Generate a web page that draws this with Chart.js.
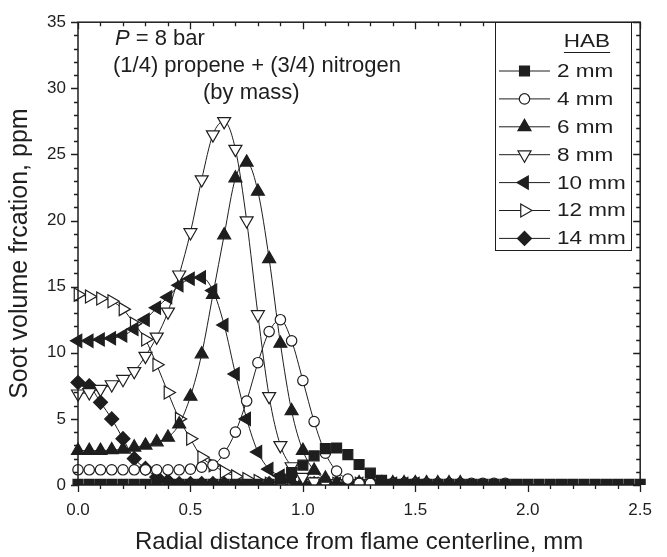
<!DOCTYPE html>
<html><head><meta charset="utf-8">
<script src="https://cdn.jsdelivr.net/npm/chart.js@4.4.1/dist/chart.umd.min.js"></script>
<style>html,body{margin:0;padding:0;background:#fff;}canvas{display:block;}</style>
</head><body>
<canvas id="c" width="667" height="557"></canvas>
<script>
// ---------- data ----------
const radialDistance = [0.00,0.05,0.10,0.15,0.20,0.25,0.30,0.35,0.40,0.45,0.50,0.55,0.60,0.65,0.70,0.75,0.80,0.85,0.90,0.95,1.00,1.05,1.10,1.15,1.20,1.25,1.30,1.35,1.40,1.45,1.50,1.55,1.60,1.65,1.70,1.75,1.80,1.85,1.90,1.95,2.00,2.05,2.10,2.15,2.20,2.25,2.30,2.35,2.40,2.45,2.50];

const hab2mm  = [0.05,0.05,0.05,0.05,0.05,0.05,0.05,0.05,0.05,0.05,0.05,0.05,0.05,0.05,0.05,0.05,0.05,0.05,0.45,0.95,1.5,2.2,2.75,2.8,2.3,1.55,0.9,0.35,0.05,0.05,0.05,0.05,0.05,0.05,0.05,0.05,0.05,0.05,0.05,0.05,0.05,0.05,0.05,0.05,0.05,0.05,0.05,0.05,0.05,0.05,0.05];
const hab4mm  = [1.15,1.15,1.15,1.15,1.15,1.15,1.15,1.15,1.15,1.15,1.2,1.35,1.5,2.4,4.0,6.35,9.25,11.6,12.5,10.9,7.9,4.8,2.4,1.05,0.45,0.12,0.12,0.12,0.12,0.12,0.12,0.12,0.12,0.12,0.12,0.12,0.12,0.12,0.12,null,null,null,null,null,null,null,null,null,null,null,null];
const hab6mm  = [2.6,2.6,2.6,2.65,2.7,2.85,3.0,3.25,3.6,4.6,6.7,9.9,14.4,18.9,23.2,24.4,22.2,17.1,10.7,5.6,2.6,1.1,0.5,0.15,0.15,0.15,0.15,0.15,0.15,0.15,0.15,0.15,0.15,0.15,0.15,null,null,null,null,null,null,null,null,null,null,null,null,null,null,null,null];
const hab8mm  = [6.9,7.0,7.25,7.6,8.0,8.6,9.75,11.2,13.1,15.9,19.1,23.1,26.5,27.5,25.4,20.0,12.9,6.7,3.0,1.4,0.6,0.25,0.1,0.1,0.1,0.1,0.1,0.1,0.1,0.1,0.1,null,null,null,null,null,null,null,null,null,null,null,null,null,null,null,null,null,null,null,null];
const hab10mm = [10.9,10.9,11.0,11.1,11.3,11.8,12.5,13.4,14.2,15.1,15.6,15.7,14.7,12.1,8.4,5.0,2.5,1.2,0.7,0.35,0.1,0.1,0.1,0.1,0.1,0.1,0.1,0.1,0.1,0.1,0.1,null,null,null,null,null,null,null,null,null,null,null,null,null,null,null,null,null,null,null,null];
const hab12mm = [14.4,14.25,14.1,13.9,13.3,12.2,11.0,9.1,7.0,5.0,3.5,2.1,1.5,1.0,0.65,0.45,0.3,0.1,0.1,0.1,0.1,0.1,0.1,0.1,0.1,0.1,null,null,null,null,null,null,null,null,null,null,null,null,null,null,null,null,null,null,null,null,null,null,null,null,null];
const hab14mm = [7.75,7.5,6.25,5.0,3.5,2.0,1.25,0.6,0.3,0.1,0.1,0.1,0.1,0.1,0.1,0.1,0.1,0.1,0.1,0.1,0.1,0.1,0.1,0.1,0.1,0.1,0.1,0.1,0.1,0.1,0.1,null,null,null,null,null,null,null,null,null,null,null,null,null,null,null,null,null,null,null,null];

const seriesLabels = ['2 mm','4 mm','6 mm','8 mm','10 mm','12 mm','14 mm'];
const seriesValues = [hab2mm, hab4mm, hab6mm, hab8mm, hab10mm, hab12mm, hab14mm];

const xTickValues = [0, 0.5, 1.0, 1.5, 2.0, 2.5];
const yTickValues = [0, 5, 10, 15, 20, 25, 30, 35];
const xMinorStep = 0.1;
const yMinorStep = 1;

const xTitle = 'Radial distance from flame centerline, mm';
const yTitle = 'Soot volume frcation, ppm';
const legendTitle = 'HAB';

// ---------- styles ----------
const INK = '#1e1e1e';
const FONT = '"Liberation Sans", Arial, Helvetica, sans-serif';
const markerStyles = [
  {pointStyle:'rect',     rotation:0,   radius:7,   fill:INK},
  {pointStyle:'circle',   rotation:0,   radius:5.2, fill:'#fff'},
  {pointStyle:'triangle', rotation:0,   radius:7.5, fill:INK},
  {pointStyle:'triangle', rotation:180, radius:7.5, fill:'#fff'},
  {pointStyle:'triangle', rotation:270, radius:7.5, fill:INK},
  {pointStyle:'triangle', rotation:90,  radius:7.5, fill:'#fff'},
  {pointStyle:'rectRot',  rotation:0,   radius:7,   fill:INK}
];

const datasets = seriesValues.map((vals, i) => ({
  label: seriesLabels[i],
  data: radialDistance.map((x, j) => ({x: x, y: vals[j]})),
  borderColor: INK,
  borderWidth: 1,
  backgroundColor: markerStyles[i].fill,
  pointStyle: markerStyles[i].pointStyle,
  pointRotation: markerStyles[i].rotation,
  pointRadius: markerStyles[i].radius,
  pointBackgroundColor: markerStyles[i].fill,
  pointBorderColor: INK,
  pointBorderWidth: 1.2,
  cubicInterpolationMode: 'monotone',
  spanGaps: false,
  fill: false,
  clip: {left: 12, top: 12, right: 12, bottom: 0}
}));

// frame + inward/outward ticks
const frameTicks = {
  id: 'frameTicks',
  afterDatasetsDraw(chart) {
    const {ctx, chartArea: a, scales: {x, y}} = chart;
    ctx.save();
    ctx.strokeStyle = INK;
    ctx.lineWidth = 1.5;
    ctx.strokeRect(a.left, a.top, a.right - a.left, a.bottom - a.top);
    ctx.lineWidth = 1.3;
    ctx.beginPath();
    const nx = Math.round((x.max - x.min) / xMinorStep);
    for (let i = 0; i <= nx; i++) {
      const v = x.min + i * xMinorStep;
      const px = Math.round(x.getPixelForValue(v)) + 0.5;
      const len = (i % 5 === 0) ? 7 : 4;
      ctx.moveTo(px, a.bottom); ctx.lineTo(px, a.bottom + len);
      ctx.moveTo(px, a.top); ctx.lineTo(px, a.top + len);
    }
    const ny = Math.round((y.max - y.min) / yMinorStep);
    for (let i = 0; i <= ny; i++) {
      const v = y.min + i * yMinorStep;
      const py = Math.round(y.getPixelForValue(v)) + 0.5;
      const len = (i % 5 === 0) ? 7 : 4;
      ctx.moveTo(a.left - len, py); ctx.lineTo(a.left, py);
      ctx.moveTo(a.right - len, py); ctx.lineTo(a.right, py);
    }
    ctx.stroke();
    ctx.restore();
  }
};

// annotation text + legend box
const extras = {
  id: 'extras',
  afterDraw(chart) {
    const ctx = chart.ctx;
    ctx.save();
    ctx.fillStyle = INK;
    ctx.textBaseline = 'alphabetic';
    ctx.textAlign = 'left';
    ctx.font = 'italic 22px ' + FONT;
    ctx.fillText('P', 115, 45);
    const pw = ctx.measureText('P').width;
    ctx.font = '22px ' + FONT;
    ctx.fillText(' = 8 bar', 115 + pw, 45);
    ctx.fillText('(1/4) propene + (3/4) nitrogen', 113, 72);
    ctx.fillText('(by mass)', 203, 99);

    const bx = 495.5, by = 22.5, bw = 136, bh = 228;
    ctx.fillStyle = '#fff';
    ctx.fillRect(bx, by, bw, bh);
    ctx.strokeStyle = INK;
    ctx.lineWidth = 1;
    ctx.strokeRect(bx, by, bw, bh);
    ctx.fillStyle = INK;

    const sx = 1.25;
    ctx.font = '18px ' + FONT;
    ctx.textBaseline = 'middle';
    const tw = ctx.measureText(legendTitle).width * sx;
    const tcx = 587;
    ctx.save();
    ctx.translate(tcx - tw / 2, 42);
    ctx.scale(sx, 1);
    ctx.fillText(legendTitle, 0, 0);
    ctx.restore();
    ctx.beginPath();
    ctx.lineWidth = 1.2;
    ctx.moveTo(tcx - tw / 2, 52.5); ctx.lineTo(tcx + tw / 2, 52.5);
    ctx.stroke();

    const dp = Chart.helpers && Chart.helpers.drawPoint;
    chart.data.datasets.forEach((ds, i) => {
      const ry = 71 + i * 27.9;
      ctx.beginPath();
      ctx.lineWidth = 1;
      ctx.strokeStyle = INK;
      ctx.moveTo(499, ry); ctx.lineTo(550, ry);
      ctx.stroke();
      ctx.fillStyle = ds.pointBackgroundColor;
      ctx.strokeStyle = INK;
      ctx.lineWidth = 1.2;
      if (dp) {
        dp(ctx, {pointStyle: ds.pointStyle, rotation: ds.pointRotation, radius: ds.pointRadius, borderWidth: 1.2}, 524.5, ry);
      }
      ctx.fillStyle = INK;
      ctx.save();
      ctx.translate(557, ry + 1);
      ctx.scale(sx, 1);
      ctx.fillText(ds.label, 0, 0);
      ctx.restore();
    });
    ctx.restore();
  }
};

new Chart(document.getElementById('c'), {
  type: 'line',
  data: {datasets: datasets},
  options: {
    responsive: false,
    animation: false,
    events: [],
    layout: {padding: {top: 18, right: 14, left: 0, bottom: 0}},
    plugins: {legend: {display: false}, tooltip: {enabled: false}},
    scales: {
      x: {
        type: 'linear', min: 0, max: 2.5,
        afterBuildTicks: s => { s.ticks = xTickValues.map(v => ({value: v})); },
        afterFit: s => { s.height = 72; },
        grid: {display: false, drawTicks: false},
        border: {display: false},
        ticks: {padding: 15, color: INK, font: {family: FONT, size: 17}, maxRotation: 0, autoSkip: false,
                callback: v => Number(v).toFixed(1)},
        title: {display: true, text: xTitle, color: INK, font: {family: FONT, size: 24, lineHeight: 1}, padding: {top: 0, bottom: 3}}
      },
      y: {
        type: 'linear', min: 0, max: 35,
        afterBuildTicks: s => { s.ticks = yTickValues.map(v => ({value: v})); },
        afterFit: s => { s.width = 78; },
        grid: {display: false, drawTicks: false},
        border: {display: false},
        ticks: {padding: 12, color: INK, font: {family: FONT, size: 17}, autoSkip: false},
        title: {display: true, text: yTitle, color: INK, font: {family: FONT, size: 25, lineHeight: 1}, padding: {top: 8, bottom: 0}}
      }
    }
  },
  plugins: [frameTicks, extras]
});
</script>
</body></html>
